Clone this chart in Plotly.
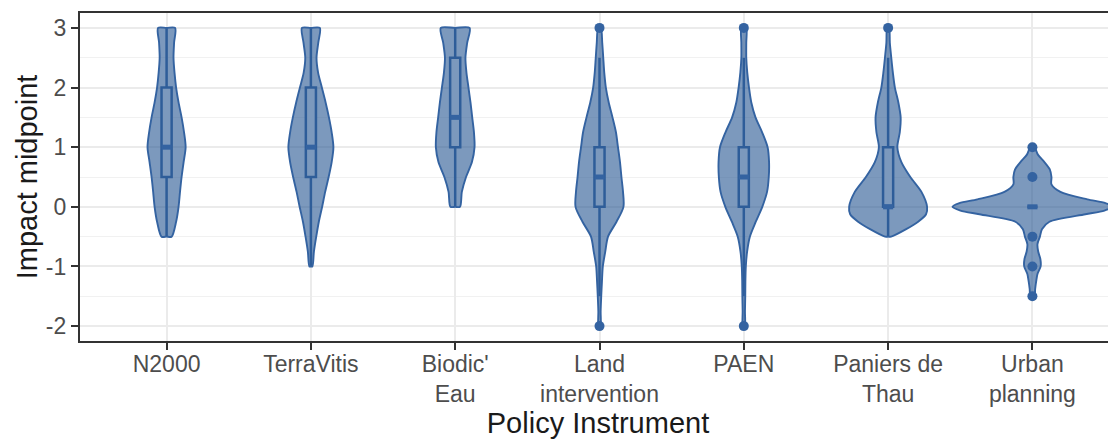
import plotly.graph_objects as go

# ---------------- data ----------------
categories = ["N2000", "TerraVitis", "Biodic'<br>Eau", "Land<br>intervention",
              "PAEN", "Paniers de<br>Thau", "Urban<br>planning"]

# violin profiles: impact-midpoint levels and half-widths (scaled density, x-axis units)
n2000_levels = [-0.5, -0.25, 0, 0.25, 0.5, 0.75, 1, 1.25, 1.5, 1.75, 2, 2.25, 2.5, 2.75, 3]
n2000_width = [0.035, 0.066, 0.083, 0.093, 0.104, 0.118, 0.132, 0.121, 0.104, 0.083, 0.066,
               0.055, 0.048, 0.052, 0.059]

terravitis_levels = [-1, -0.75, -0.5, -0.25, 0, 0.25, 0.5, 0.75, 1, 1.25, 1.5, 1.75, 2,
                     2.25, 2.5, 2.75, 3]
terravitis_width = [0.010, 0.021, 0.037, 0.055, 0.078, 0.099, 0.123, 0.144, 0.156, 0.144,
                    0.125, 0.102, 0.076, 0.050, 0.039, 0.051, 0.062]

biodic_levels = [0, 0.25, 0.5, 0.75, 1, 1.25, 1.5, 1.75, 2, 2.25, 2.5, 2.75, 3]
biodic_width = [0.033, 0.046, 0.075, 0.116, 0.134, 0.130, 0.118, 0.106, 0.092, 0.078,
                0.071, 0.083, 0.100]

land_levels = [-2, -1.75, -1.5, -1.25, -1, -0.75, -0.5, -0.25, 0, 0.25, 0.5, 0.75, 1,
               1.25, 1.5, 1.75, 2, 2.25, 2.5, 2.75, 3]
land_width = [0.007, 0.008, 0.012, 0.017, 0.023, 0.040, 0.059, 0.118, 0.166, 0.163, 0.152,
              0.142, 0.128, 0.114, 0.090, 0.064, 0.044, 0.033, 0.026, 0.019, 0.010]

paen_levels = [-2, -1.75, -1.5, -1.25, -1, -0.75, -0.5, -0.25, 0, 0.25, 0.5, 0.75, 1,
               1.25, 1.5, 1.75, 2, 2.25, 2.5, 2.75, 3]
paen_width = [0.007, 0.008, 0.010, 0.011, 0.014, 0.023, 0.042, 0.083, 0.128, 0.161, 0.173,
              0.175, 0.165, 0.127, 0.081, 0.052, 0.036, 0.024, 0.017, 0.017, 0.017]

paniers_levels = [-0.5, -0.375, -0.25, -0.125, 0, 0.25, 0.5, 0.75, 1, 1.25, 1.5, 1.75, 2,
                  2.25, 2.5, 2.75, 3]
paniers_width = [0.021, 0.125, 0.208, 0.263, 0.270, 0.231, 0.154, 0.092, 0.064, 0.081,
                 0.087, 0.071, 0.047, 0.033, 0.022, 0.012, 0.007]

urban_levels = [-1.5, -1.375, -1.25, -1.125, -1, -0.875, -0.75, -0.625, -0.5, -0.375,
                -0.25, -0.125, -0.0625, 0, 0.0625, 0.125, 0.25, 0.375, 0.5, 0.625, 0.75,
                0.875, 1]
urban_width = [0.014, 0.019, 0.026, 0.035, 0.057, 0.055, 0.040, 0.035, 0.052, 0.066,
               0.118, 0.367, 0.499, 0.554, 0.506, 0.381, 0.194, 0.132, 0.132, 0.121,
               0.083, 0.038, 0.014]

# boxplot statistics per instrument
box_q1 = [0.5, 0.5, 1.0, 0.0, 0.0, 0.0, 0.0]
box_median = [1.0, 1.0, 1.5, 0.5, 0.5, 0.0, 0.0]
box_q3 = [2.0, 2.0, 2.5, 1.0, 1.0, 1.0, 0.0]
box_lower = [-0.5, -1.0, 0.0, -1.5, -1.5, -0.5, 0.0]
box_upper = [3.0, 3.0, 3.0, 2.5, 2.5, 2.5, 0.0]

# outliers (category index, value)
outlier_cat = [3, 3, 4, 4, 5, 6, 6, 6, 6, 6]
outlier_val = [3, -2, 3, -2, 3, 1, 0.5, -0.5, -1, -1.5]

y_ticks = [-2, -1, 0, 1, 2, 3]

# ---------------- styling ----------------
FILL = "rgba(44,90,148,0.62)"
LINE = "#3463A1"
FONT = "Liberation Sans, Arial, sans-serif"
BOX_W = 0.07

violins = [
    (n2000_levels, n2000_width),
    (terravitis_levels, terravitis_width),
    (biodic_levels, biodic_width),
    (land_levels, land_width),
    (paen_levels, paen_width),
    (paniers_levels, paniers_width),
    (urban_levels, urban_width),
]

fig = go.Figure()

for i, (lv, wd) in enumerate(violins):
    xs = [i] + [i + w for w in wd] + [i] + [i - w for w in reversed(wd)] + [i]
    ys = [lv[0]] + list(lv) + [lv[-1]] + list(reversed(lv)) + [lv[0]]
    fig.add_trace(go.Scatter(
        x=xs, y=ys, mode="lines", fill="toself", fillcolor=FILL,
        line=dict(color=LINE, width=1.9, shape="spline", smoothing=0.8),
        hoverinfo="skip", showlegend=False))

fig.add_trace(go.Box(
    x=list(range(len(categories))), q1=box_q1, median=box_median, q3=box_q3,
    lowerfence=box_lower, upperfence=box_upper, width=BOX_W, whiskerwidth=0,
    fillcolor="white", line=dict(color=LINE, width=2.5), boxpoints=False,
    hoverinfo="skip", showlegend=False))

# thicker median bar (ggplot fatten)
mx, my = [], []
for i, m in enumerate(box_median):
    mx += [i - BOX_W / 2, i + BOX_W / 2, None]
    my += [m, m, None]
fig.add_trace(go.Scatter(x=mx, y=my, mode="lines", line=dict(color=LINE, width=5),
                         hoverinfo="skip", showlegend=False))

fig.add_trace(go.Scatter(x=outlier_cat, y=outlier_val, mode="markers",
                         marker=dict(color=LINE, size=10),
                         hoverinfo="skip", showlegend=False))

# the page body keeps an 8px margin, so the figure is sized/offset to compensate
fig.update_layout(
    width=1108, height=431,
    margin=dict(l=72, r=0, t=5, b=98),
    paper_bgcolor="white", plot_bgcolor="white",
    font=dict(family=FONT),
    showlegend=False,
)
fig.update_xaxes(
    range=[-0.6, 6.6 - 3 / 144.4],
    tickmode="array", tickvals=list(range(len(categories))), ticktext=categories,
    showgrid=True, gridcolor="#EBEBEB", gridwidth=1.5, zeroline=False,
    showline=True, linecolor="#333333", linewidth=2.2, mirror=True,
    ticks="outside", ticklen=7, tickwidth=1.6, tickcolor="#333333",
    ticklabelstandoff=-6,
    tickfont=dict(size=23, color="#4D4D4D", family=FONT),
    title=dict(text="Policy Instrument", font=dict(size=29, color="#1A1A1A", family=FONT),
               standoff=2),
)
fig.update_yaxes(
    range=[-2.25, 3.25],
    tickmode="array", tickvals=y_ticks, ticktext=[str(v) for v in y_ticks],
    showgrid=True, gridcolor="#EBEBEB", gridwidth=1.5, zeroline=False,
    minor=dict(tickmode="linear", tick0=0, dtick=0.5, showgrid=True,
               gridcolor="#F1F1F1", gridwidth=1, ticks=""),
    showline=True, linecolor="#333333", linewidth=2.2, mirror=False,
    ticks="outside", ticklen=7, tickwidth=1.6, tickcolor="#333333",
    tickfont=dict(size=23, color="#4D4D4D", family=FONT),
    title=dict(text="Impact midpoint", font=dict(size=29, color="#1A1A1A", family=FONT),
               standoff=0),
)

fig.write_html("out.html")
